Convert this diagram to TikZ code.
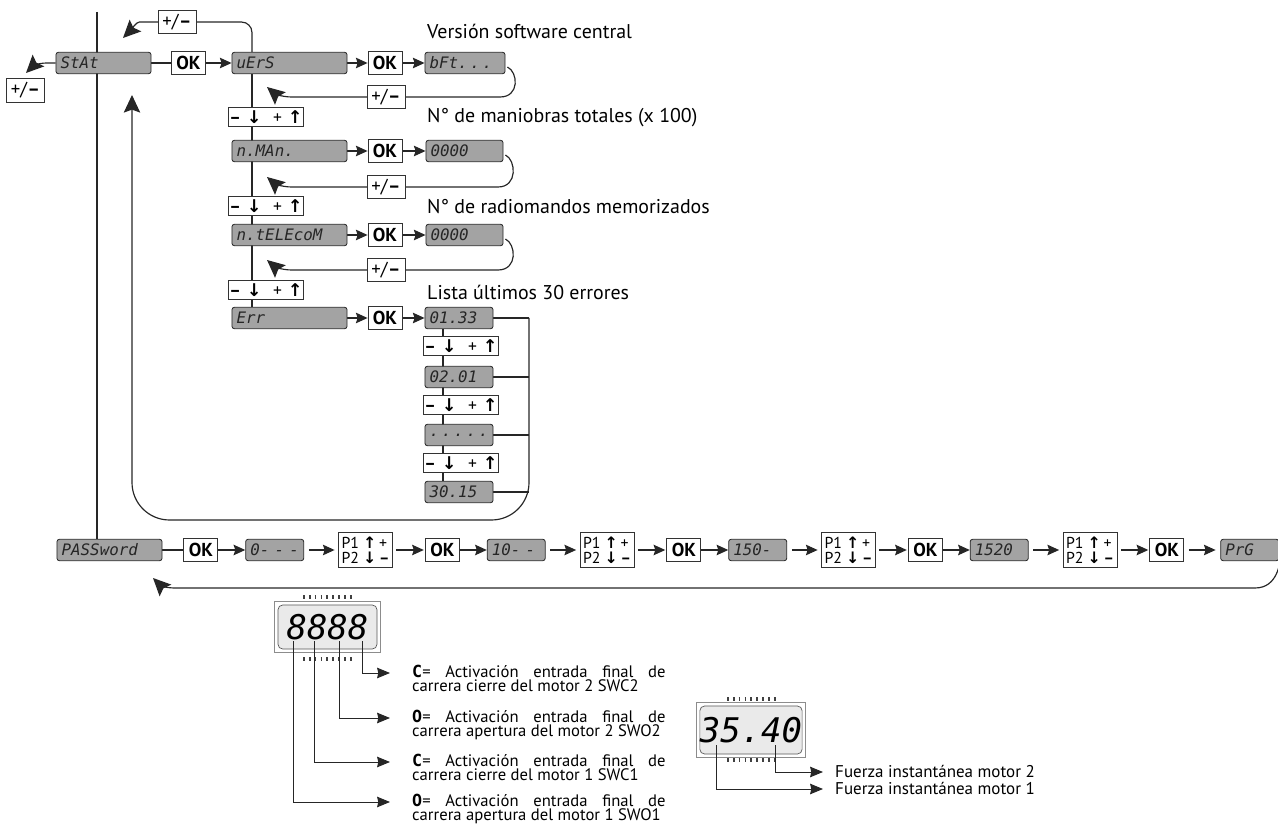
\documentclass[tikz,border=0pt]{standalone}
\usepackage{fontspec}
\setmainfont{PT Sans}
\newfontfamily\segfont{DejaVu Sans Mono}
\newfontfamily\arrowfont{DejaVu Sans}
\usetikzlibrary{arrows.meta,positioning,backgrounds}

\definecolor{dispgray}{HTML}{A3A3A3}
\definecolor{lcdgray}{HTML}{EAEAEA}

\newcommand{\arrdn}{{\arrowfont\bfseries ↓}}
\newcommand{\arrup}{{\arrowfont\bfseries ↑}}
\newcommand{\updn}{\textbf{–}\,\,\arrdn\enspace\,+\,\,\arrup}

\begin{document}
\begin{tikzpicture}[x=0.03cm, y=-0.03cm,
    disp/.style={rectangle, rounded corners=2pt, draw=black!85, fill=dispgray, line width=0.7pt, minimum height=0.64cm, inner xsep=4pt, inner ysep=0pt, text width=#1, align=left, text=black!85, font=\segfont\itshape\fontsize{13.5}{13.5}\selectfont},
    disp/.default=3.17cm,
    okbox/.style={rectangle, draw=black!80, fill=white, line width=0.7pt, minimum width=1.02cm, minimum height=0.68cm, inner sep=1pt, font=\bfseries\fontsize{16}{16}\selectfont},
    pmbox/.style={rectangle, draw=black!80, fill=white, line width=0.7pt, minimum width=1.14cm, minimum height=0.7cm, inner sep=1pt, font=\fontsize{16}{16}\selectfont},
    udbox/.style={rectangle, draw=black!80, fill=white, line width=0.7pt, minimum width=2.16cm, minimum height=0.58cm, inner sep=1pt, font=\fontsize{15}{15}\selectfont},
    pbox/.style={rectangle, draw=black!80, fill=white, line width=0.7pt, minimum width=1.62cm, minimum height=1.04cm, inner sep=2pt, align=left, font=\fontsize{13.5}{12.5}\selectfont},
    lcd/.style={rectangle, rounded corners=4pt, draw=black!65, fill=lcdgray, line width=0.6pt, inner sep=0pt, font=\segfont\itshape\fontsize{29}{29}\selectfont},
    ticks/.style={line width=3pt, dash pattern=on 1.5pt off 3.5pt, black!75},
    lbl/.style={anchor=west, inner sep=0pt, font=\fontsize{17}{17}\selectfont},
    desc/.style={anchor=base west, inner sep=0pt, text width=7.6cm, align=justify, font=\fontsize{14.2}{12.8}\selectfont},
    note/.style={anchor=base west, inner sep=0pt, font=\fontsize{14.5}{14.5}\selectfont},
    wire/.style={line width=1pt, draw=black!85},
    arr/.style={wire, -{Stealth[length=10pt,width=9pt,inset=1.5pt]}},
    back/.style={wire, -{Stealth[length=15pt,width=14pt,inset=2.5pt]}},
    lead/.style={line width=0.8pt, draw=black!85, -{Stealth[length=11pt,width=9pt,inset=1pt]}},
    node distance=0.8cm
]
    \useasboundingbox (0,0) rectangle (1278,825);

    % status menu
    \node[disp=2.57cm]      (stat)    at (103.5,63) {StAt};
    \node[okbox]            (okstat)  at (188.5,63) {OK};
    \node[disp]             (vers)    at (289.5,63) {uErS};
    \node[okbox]            (okvers)  at (385,63)   {OK};
    \node[disp=2.12cm]      (bft)     at (465,63)   {bFt.\,.\,.};
    \node[pmbox]            (pmtop)   at (177,22)   {+/\textbf{–}};
    \node[pmbox]            (pmstat)  at (25.5,90.5) {+/\textbf{–}};
    \node[pmbox]            (pmvers)  at (386,97)   {+/\textbf{–}};
    \node[udbox]            (ud1)     at (266,117)  {\updn};

    \node[disp]             (nman)    at (289.5,151) {n.MAn.};
    \node[okbox]            (oknman)  at (385,151)  {OK};
    \node[disp=2.03cm]      (vman)    at (464.5,151) {0000};
    \node[pmbox]            (pmnman)  at (386,187)  {+/\textbf{–}};
    \node[udbox]            (ud2)     at (266,206)  {\updn};

    \node[disp]             (ntel)    at (289.5,235) {n.tELEcoM};
    \node[okbox]            (okntel)  at (385,235)  {OK};
    \node[disp=2.03cm]      (vtel)    at (464.5,235) {0000};
    \node[pmbox]            (pmntel)  at (386,270)  {+/\textbf{–}};
    \node[udbox]            (ud3)     at (266,290)  {\updn};

    \node[disp]             (err)     at (289.5,318) {Err};
    \node[okbox]            (okerr)   at (385,318)  {OK};
    \node[disp=1.76cm]      (e1)      at (459,318)  {01.33};
    \node[udbox]            (ue1)     at (461,346)  {\updn};
    \node[disp=1.76cm]      (e2)      at (459,377)  {02.01};
    \node[udbox]            (ue2)     at (461,405)  {\updn};
    \node[disp=1.76cm]      (e3)      at (459,435)  {.\hfill.\hfill.\hfill.\hfill.};
    \node[udbox]            (ue3)     at (461,463)  {\updn};
    \node[disp=1.76cm]      (e30)     at (459,492)  {30.15};

    % labels
    \node[lbl] (lvers) at (427,31)  {Versión software central};
    \node[lbl] (lman)  at (427,118) {N° de maniobras totales (x 100)};
    \node[lbl] (ltel)  at (427,207) {N° de radiomandos memorizados};
    \node[lbl] (lerr)  at (427,292) {Lista últimos 30 errores};

    % password row
    \node[disp=2.87cm]                (pass) at (109.5,550) {PASSword};
    \node[okbox, right=0.63cm of pass] (okp1) {OK};
    \node[disp=1.46cm, right=0.81cm of okp1] (pw1) {0- - -};
    \node[pbox, right=1.02cm of pw1]   (pp1)  {P1 \arrup\,+\\P2 \arrdn\,\textbf{–}};
    \node[okbox, right=0.96cm of pp1]  (okp2) {OK};
    \node[disp=1.46cm, right=0.81cm of okp2] (pw2) {10- -};
    \node[pbox, right=1.02cm of pw2]   (pp2)  {P1 \arrup\,+\\P2 \arrdn\,\textbf{–}};
    \node[okbox, right=0.96cm of pp2]  (okp3) {OK};
    \node[disp=1.46cm, right=0.81cm of okp3] (pw3) {150-};
    \node[pbox, right=1.02cm of pw3]   (pp3)  {P1 \arrup\,+\\P2 \arrdn\,\textbf{–}};
    \node[okbox, right=0.96cm of pp3]  (okp4) {OK};
    \node[disp=1.46cm, right=0.81cm of okp4] (pw4) {1520};
    \node[pbox, right=1.02cm of pw4]   (pp4)  {P1 \arrup\,+\\P2 \arrdn\,\textbf{–}};
    \node[okbox, right=0.96cm of pp4]  (okp5) {OK};
    \node[disp=1.46cm, right=1.08cm of okp5] (prg) {PrG};

    % helper coordinates
    \coordinate (mainTop) at (97,12);
    \coordinate (colA)    at (252,0);
    \coordinate (colB)    at (443,0);
    \coordinate (colC)    at (529,0);
    \coordinate (loopBR)  at (529,520);
    \coordinate (loopBL)  at (132,520);
    \coordinate (tipStat) at (132,95);
    \coordinate (tipTop)  at (123,38);
    \coordinate (tipLeft) at (26,73);
    \coordinate (tipPass) at (153,578);

    \begin{scope}[on background layer]
        % main columns
        \draw[wire] (mainTop) -- (pass.north -| mainTop);
        \draw[wire] (vers.south -| colA) -- (err.north -| colA);
        \draw[wire] (e1.south -| colB) -- (e30.north -| colB);

        % forward arrows
        \draw[wire] (stat) -- (okstat);
        \draw[arr]  (okstat) -- (vers);
        \draw[arr]  (vers) -- (okvers);
        \draw[arr]  (okvers) -- (bft);
        \draw[arr]  (nman) -- (oknman);
        \draw[arr]  (oknman) -- (vman);
        \draw[arr]  (ntel) -- (okntel);
        \draw[arr]  (okntel) -- (vtel);
        \draw[arr]  (err) -- (okerr);
        \draw[arr]  (okerr) -- (e1);

        % +/- returns
        \draw[back, rounded corners=9pt] (vers.north -| colA) |- (pmtop.east) -- (pmtop.west) -- (150,22) .. controls (136,22) and (131,30) .. (tipTop);
        \draw[back] (stat.west) -- (47,63) .. controls (37,63) and (32,67) .. (tipLeft);
        \draw[back] ([shift={(2,4)}]bft.east) .. controls (518,72) and (520,97) .. (500,97) -- (292,97) .. controls (281,97) and (274,93) .. (267,87);
        \draw[back] ([shift={(2,4)}]vman.east) .. controls (516,160) and (518,187) .. (498,187) -- (292,187) .. controls (281,187) and (274,183) .. (267,177);
        \draw[back] ([shift={(2,4)}]vtel.east) .. controls (516,244) and (518,270) .. (498,270) -- (292,270) .. controls (281,270) and (274,266) .. (267,260);

        % error list back to StAt
        \draw[wire] (e1.east) -- (e1.east -| colC);
        \draw[wire] (e2.east) -- (e2.east -| colC);
        \draw[wire] (e3.east) -- (e3.east -| colC);
        \draw[wire] (e30.east) -- (e30.east -| colC);
        \draw[back, rounded corners=32pt] (e1.east -| colC) -- (loopBR) -- (loopBL) -- (tipStat);

        % password row arrows
        \draw[wire] (pass) -- (okp1);
        \draw[arr] (okp1) -- (pw1);
        \draw[arr, shorten <=4pt, shorten >=3pt] (pw1) -- (pp1);
        \draw[arr, shorten <=3pt, shorten >=1pt] (pp1) -- (okp2);
        \draw[arr] (okp2) -- (pw2);
        \draw[arr, shorten <=4pt, shorten >=3pt] (pw2) -- (pp2);
        \draw[arr, shorten <=3pt, shorten >=1pt] (pp2) -- (okp3);
        \draw[arr] (okp3) -- (pw3);
        \draw[arr, shorten <=4pt, shorten >=3pt] (pw3) -- (pp3);
        \draw[arr, shorten <=3pt, shorten >=1pt] (pp3) -- (okp4);
        \draw[arr] (okp4) -- (pw4);
        \draw[arr, shorten <=4pt, shorten >=3pt] (pw4) -- (pp4);
        \draw[arr, shorten <=3pt, shorten >=1pt] (pp4) -- (okp5);
        \draw[arr, shorten <=4pt, shorten >=4pt] (okp5) -- (prg);
        \draw[back] ([shift={(2,5)}]prg.east) .. controls (1280,562) and (1278,588) .. (1255,588) -- (175,588) .. controls (165,588) and (160,585) .. (tipPass);
    \end{scope}

    % display 8888
    \node[lcd, minimum width=2.97cm, minimum height=1.32cm] (lcdA) at (327.5,627) {8888};
    \draw[black!45, line width=0.5pt] ([shift={(-3,-3)}]lcdA.north west) rectangle ([shift={(3,3)}]lcdA.south east);
    \draw[ticks] (303,597) -- (352,597);
    \draw[ticks] (303,659) -- (352,659);
    \coordinate (l1) at (293,641);
    \coordinate (l2) at (314,641);
    \coordinate (l3) at (339,641);
    \coordinate (l4) at (362,641);
    \coordinate (a1) at (390,802);
    \coordinate (a2) at (390,762);
    \coordinate (a3) at (390,718);
    \coordinate (a4) at (390,673);
    \draw[lead] (l4) |- (a4);
    \draw[lead] (l3) |- (a3);
    \draw[lead] (l2) |- (a2);
    \draw[lead] (l1) |- (a1);
    \node[desc] (t4) at (412,677) {{\segfont\bfseries C}= Activación entrada final de\linebreak carrera cierre del motor 2 SWC2};
    \node[desc] (t3) at (412,722) {{\segfont\bfseries O}= Activación entrada final de\linebreak carrera apertura del motor 2 SWO2};
    \node[desc] (t2) at (412,766) {{\segfont\bfseries C}= Activación entrada final de\linebreak carrera cierre del motor 1 SWC1};
    \node[desc] (t1) at (412,806) {{\segfont\bfseries O}= Activación entrada final de\linebreak carrera apertura del motor 1 SWO1};

    % display 35.40
    \node[lcd, minimum width=3.0cm, minimum height=1.44cm] (lcdB) at (751,730) {35.40};
    \draw[black!45, line width=0.5pt] ([shift={(-3,-3)}]lcdB.north west) rectangle ([shift={(3,3)}]lcdB.south east);
    \draw[ticks] (727,699) -- (776,699);
    \draw[ticks] (727,760) -- (776,760);
    \coordinate (m1) at (716,745);
    \coordinate (m2) at (775,745);
    \coordinate (b1) at (823,789);
    \coordinate (b2) at (823,772);
    \draw[lead] (m2) |- (b2);
    \draw[lead] (m1) |- (b1);
    \node[note] (f2) at (835,777) {Fuerza instantánea motor 2};
    \node[note] (f1) at (835,794) {Fuerza instantánea motor 1};
\end{tikzpicture}
\end{document}
